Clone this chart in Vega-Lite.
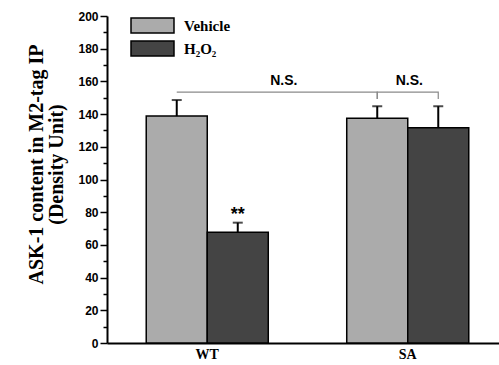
{
  "$schema": "https://vega.github.io/schema/vega-lite/v6.json",
  "width": 392,
  "height": 327,
  "autosize": "none",
  "padding": {"left": 107, "top": 16, "right": 0, "bottom": 22},
  "background": "white",
  "config": {"view": {"stroke": null}, "axis": {"grid": false}, "axisY": {"labelOverlap": false}},
  "datasets": {
    "bars": [
      {"group": "WT", "treatment": "Vehicle", "value": 138.8, "hi": 148.6},
      {"group": "WT", "treatment": "H₂O₂", "value": 67.7, "hi": 73.6},
      {"group": "SA", "treatment": "Vehicle", "value": 137.4, "hi": 144.8},
      {"group": "SA", "treatment": "H₂O₂", "value": 131.7, "hi": 144.8}
    ],
    "brackets": [
      {"id": "A", "order": 1, "group": "WT", "treatment": "Vehicle", "value": 153.5},
      {"id": "A", "order": 2, "group": "SA", "treatment": "Vehicle", "value": 153.5},
      {"id": "A", "order": 3, "group": "SA", "treatment": "Vehicle", "value": 149.2},
      {"id": "B", "order": 1, "group": "SA", "treatment": "Vehicle", "value": 149.2},
      {"id": "B", "order": 2, "group": "SA", "treatment": "Vehicle", "value": 153.5},
      {"id": "B", "order": 3, "group": "SA", "treatment": "H₂O₂", "value": 153.5},
      {"id": "B", "order": 4, "group": "SA", "treatment": "H₂O₂", "value": 149.2}
    ],
    "labels": [
      {"id": "ns1", "group": "WT", "treatment": "H₂O₂", "value": 160, "text": "N.S."},
      {"id": "ns2", "group": "SA", "treatment": "Vehicle", "value": 160, "text": "N.S."},
      {"id": "star", "group": "WT", "treatment": "H₂O₂", "value": 78, "text": "**"}
    ]
  },
  "encoding": {
    "x": {
      "field": "group",
      "type": "nominal",
      "sort": ["WT", "SA"],
      "scale": {"range": [0, 401], "paddingInner": 0, "paddingOuter": 0},
      "axis": {
        "title": null,
        "labelAngle": 0,
        "ticks": false,
        "domainWidth": 2,
        "domainColor": "black",
        "labelColor": "black",
        "labelFont": "Liberation Serif",
        "labelFontWeight": "bold",
        "labelFontSize": 14,
        "labelPadding": 4
      }
    },
    "xOffset": {
      "field": "treatment",
      "type": "nominal",
      "sort": ["Vehicle", "H₂O₂"],
      "scale": {"paddingInner": 0, "paddingOuter": 0.643}
    },
    "y": {
      "field": "value",
      "type": "quantitative",
      "scale": {"domain": [0, 200], "nice": false},
      "axis": {
        "values": [0, 10, 20, 30, 40, 50, 60, 70, 80, 90, 100, 110, 120, 130, 140, 150, 160, 170, 180, 190, 200],
        "labelExpr": "datum.value % 20 === 0 ? datum.label : ''",
        "labelOverlap": false,
        "tickSize": {"condition": {"test": "datum.value % 20 === 0", "value": 7}, "value": 4},
        "tickWidth": 1.5,
        "tickColor": "black",
        "domainWidth": 2,
        "domainColor": "black",
        "labelColor": "black",
        "labelFont": "Liberation Sans",
        "labelFontWeight": "bold",
        "labelFontSize": 12,
        "labelPadding": 2,
        "title": ["ASK-1 content in M2-tag IP", "(Density Unit)"],
        "titleFont": "Liberation Serif",
        "titleFontWeight": "bold",
        "titleFontSize": 20,
        "titleLineHeight": 20,
        "titleColor": "black",
        "titlePadding": 11,
        "titleY": 148
      }
    }
  },
  "layer": [
    {
      "data": {"name": "bars"},
      "mark": {"type": "bar", "stroke": "black", "strokeWidth": 1.5},
      "encoding": {
        "fill": {
          "field": "treatment",
          "type": "nominal",
          "sort": ["Vehicle", "H₂O₂"],
          "scale": {"domain": ["Vehicle", "H₂O₂"], "range": ["#ababab", "#444444"]},
          "legend": {
            "orient": "none",
            "legendX": 34,
            "legendY": -2,
            "title": null,
            "padding": 0,
            "symbolType": "M-2,-0.7H2V0.7H-2Z",
            "symbolSize": 462,
            "symbolStrokeColor": "black",
            "symbolStrokeWidth": 1.5,
            "symbolOpacity": 1,
            "labelFont": "Liberation Serif",
            "labelFontWeight": "bold",
            "labelFontSize": 15,
            "labelColor": "black",
            "labelOffset": 20,
            "rowPadding": 0
          }
        }
      }
    },
    {
      "data": {"name": "bars"},
      "mark": {"type": "rule", "color": "black", "strokeWidth": 2},
      "encoding": {
        "y2": {"field": "hi"}
      }
    },
    {
      "data": {"name": "bars"},
      "mark": {"type": "tick", "color": "black", "size": 10, "thickness": 2},
      "encoding": {
        "y": {"field": "hi", "type": "quantitative"}
      }
    },
    {
      "data": {"name": "brackets"},
      "mark": {"type": "line", "color": "#8a8a8a", "strokeWidth": 1.2},
      "encoding": {
        "detail": {"field": "id"},
        "order": {"field": "order"}
      }
    },
    {
      "data": {"name": "labels"},
      "transform": [{"filter": "datum.id === 'ns1'"}],
      "mark": {"type": "text", "font": "Liberation Sans", "fontWeight": "bold", "fontSize": 14, "color": "black", "dx": 46, "baseline": "middle"},
      "encoding": {
        "text": {"field": "text"}
      }
    },
    {
      "data": {"name": "labels"},
      "transform": [{"filter": "datum.id === 'ns2'"}],
      "mark": {"type": "text", "font": "Liberation Sans", "fontWeight": "bold", "fontSize": 14, "color": "black", "dx": 32, "baseline": "middle"},
      "encoding": {
        "text": {"field": "text"}
      }
    },
    {
      "data": {"name": "labels"},
      "transform": [{"filter": "datum.id === 'star'"}],
      "mark": {"type": "text", "font": "Liberation Sans", "fontWeight": "bold", "fontSize": 18, "color": "black", "baseline": "middle"},
      "encoding": {
        "text": {"field": "text"}
      }
    }
  ]
}
